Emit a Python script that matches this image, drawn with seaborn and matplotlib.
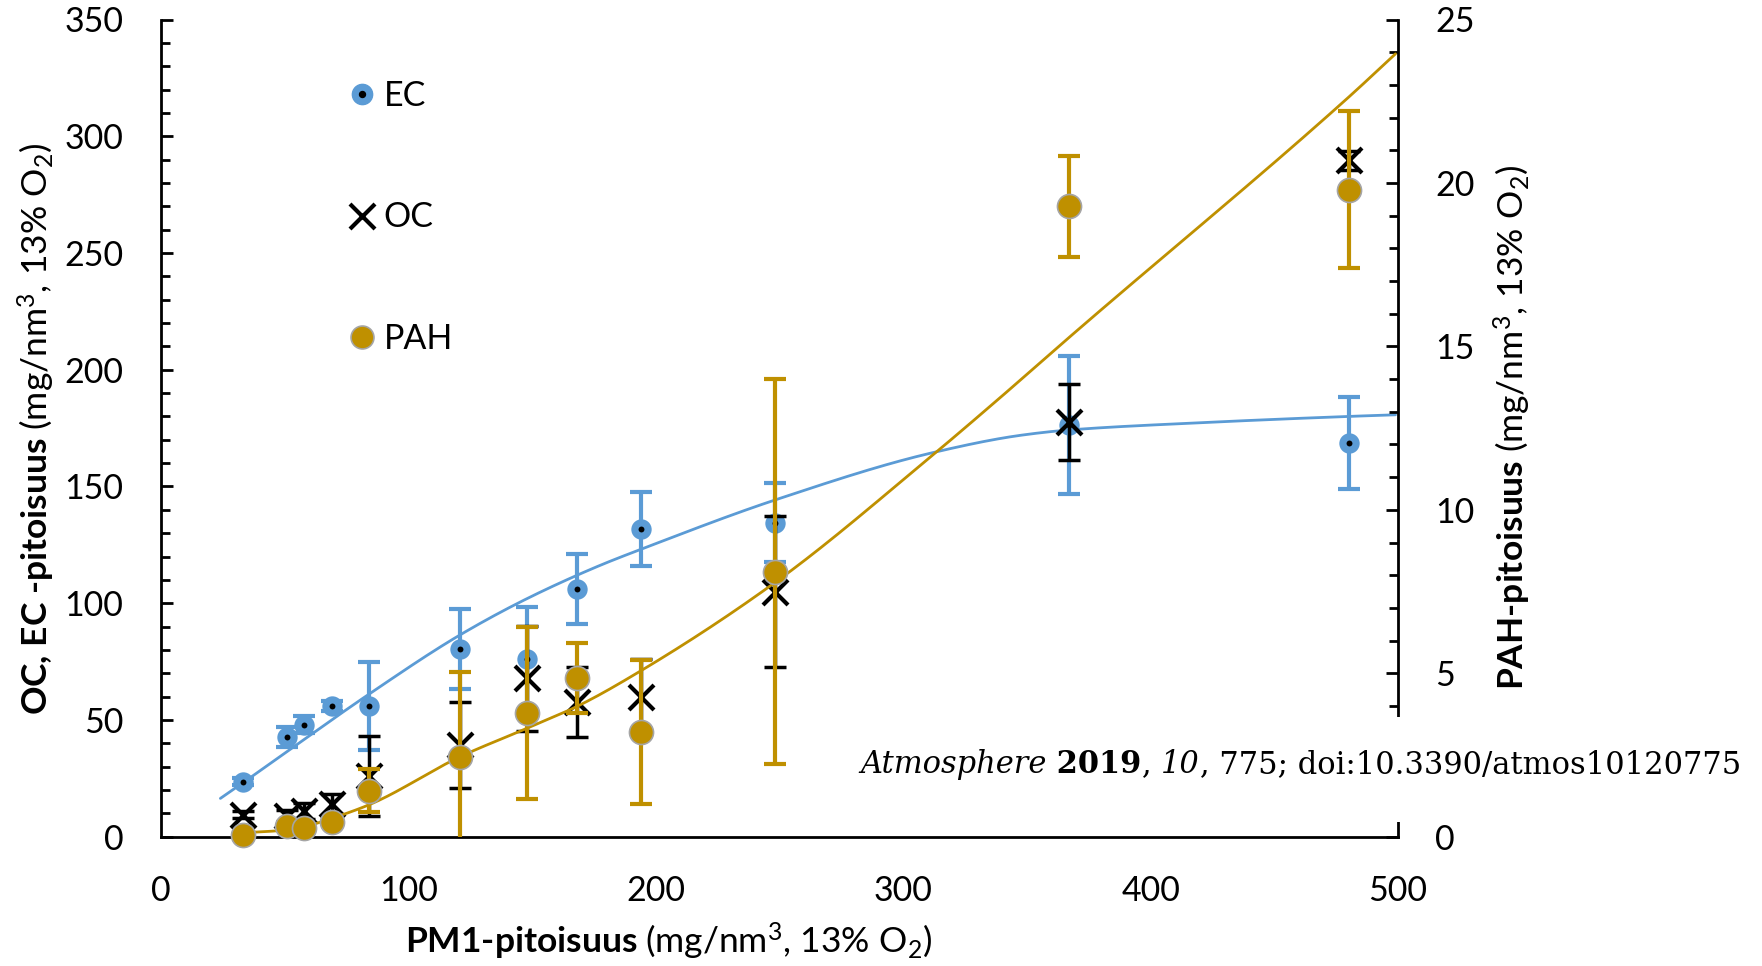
import numpy as np
import pandas as pd
import matplotlib
matplotlib.use("Agg")
import matplotlib.pyplot as plt
from matplotlib.lines import Line2D
from matplotlib.patches import Rectangle
from matplotlib.legend_handler import HandlerTuple
from matplotlib.ticker import MultipleLocator
import seaborn as sns

# ---- measurements -------------------------------------------------------
pm1 = [33, 51, 58, 69, 84, 121, 148, 168, 194, 248, 367, 480]

ec = [23.6, 42.8, 47.9, 56.0, 56.0, 80.4, 76.0, 106.0, 131.8, 134.5, 176.4, 168.8]
ec_err = [1.5, 4.3, 3.6, 2.0, 18.7, 17.3, 22.5, 15.0, 16.0, 17.0, 29.5, 19.7]

oc = [9.3, 9.0, 10.9, 13.8, 26.0, 39.3, 67.9, 57.8, 60.0, 105.0, 177.8, 289.7]
oc_err = [1.5, 2.5, 3.5, 4.3, 17.0, 18.5, 22.5, 14.9, 16.0, 32.5, 16.3, 4.0]

pah = [0.05, 0.34, 0.26, 0.44, 1.41, 2.45, 3.78, 4.85, 3.21, 8.11, 19.28, 19.79]
pah_err = [0.05, 0.1, 0.1, 0.1, 0.65, 2.6, 2.62, 1.07, 2.2, 5.9, 1.55, 2.4]

# trend curve nodes
ec_trend_x = [24, 33, 51, 84, 121, 148, 177, 195, 249, 312, 348, 367, 420, 480, 499]
ec_trend_y = [16.4, 23.0, 36.5, 61.0, 86.5, 102.0, 116.0, 123.5, 144.5, 164.5, 172.0, 174.2, 177.3, 180.0, 180.7]

pah_trend_x = [33, 50, 60, 69, 84.5, 121, 148, 168, 194.5, 248.6, 312, 338.7, 366.7, 479.7, 499]
pah_trend_y = [0.12, 0.2, 0.35, 0.56, 0.99, 2.45, 3.32, 3.98, 5.1, 7.8, 11.68, 13.4, 15.25, 22.6, 23.95]

x_ticks = [0, 100, 200, 300, 400, 500]
left_ticks = [0, 50, 100, 150, 200, 250, 300, 350]
right_ticks = [0, 5, 10, 15, 20, 25]
series_names = ["EC", "OC", "PAH"]

BLUE = "#5B9BD5"
GOLD = "#BF9000"
GREY = "#A5A5A5"


def smooth_curve(xn, yn, num=400):
    """Monotone cubic Hermite curve through the nodes."""
    xn = np.asarray(xn, float)
    yn = np.asarray(yn, float)
    h = np.diff(xn)
    d = np.diff(yn) / h
    m = np.empty_like(yn)
    m[0], m[-1] = d[0], d[-1]
    for k in range(1, len(xn) - 1):
        if d[k - 1] * d[k] <= 0:
            m[k] = 0.0
        else:
            w1 = 2 * h[k] + h[k - 1]
            w2 = h[k] + 2 * h[k - 1]
            m[k] = (w1 + w2) / (w1 / d[k - 1] + w2 / d[k])
    xs = np.linspace(xn[0], xn[-1], num)
    idx = np.clip(np.searchsorted(xn, xs) - 1, 0, len(h) - 1)
    t = (xs - xn[idx]) / h[idx]
    h00 = 2 * t**3 - 3 * t**2 + 1
    h10 = t**3 - 2 * t**2 + t
    h01 = -2 * t**3 + 3 * t**2
    h11 = t**3 - t**2
    ys = (h00 * yn[idx] + h10 * h[idx] * m[idx]
          + h01 * yn[idx + 1] + h11 * h[idx] * m[idx + 1])
    return pd.DataFrame({"x": xs, "y": ys})


sns.set_style("white")
plt.rcParams["font.family"] = ["Lato", "DejaVu Sans"]
plt.rcParams.update({
    "mathtext.fontset": "custom",
    "mathtext.rm": "Lato",
    "mathtext.it": "Lato:italic",
    "mathtext.bf": "Lato:bold",
    "text.color": "black",
    "axes.edgecolor": "black",
    "xtick.color": "black",
    "ytick.color": "black",
})

W, H = 1762, 966
fig = plt.figure(figsize=(W / 100, H / 100), dpi=100)
ax = fig.add_axes([161 / W, 1 - 836.7 / H, (1398 - 161) / W, (836.7 - 19.5) / H])
ax2 = ax.twinx()

df = pd.DataFrame({"pm1": pm1, "ec": ec, "oc": oc, "pah": pah})

# EC (left axis)
ax.errorbar(pm1, ec, yerr=ec_err, fmt="none", ecolor=BLUE, elinewidth=3,
            capsize=7.7, capthick=3, zorder=2)
sns.lineplot(data=smooth_curve(ec_trend_x, ec_trend_y), x="x", y="y", ax=ax,
             color=BLUE, lw=2, sort=False, estimator=None, zorder=3)
sns.scatterplot(data=df, x="pm1", y="ec", ax=ax, marker="o", s=215,
                color=BLUE, edgecolor=BLUE, linewidth=0, zorder=4)
sns.scatterplot(data=df, x="pm1", y="ec", ax=ax, marker="o", s=18,
                color="black", edgecolor="black", linewidth=0, zorder=5)

# OC (left axis)
ax.errorbar(pm1, oc, yerr=oc_err, fmt="none", ecolor="black", elinewidth=2.5,
            capsize=7.7, capthick=2.5, zorder=6)
sns.scatterplot(data=df, x="pm1", y="oc", ax=ax, marker="x", s=324,
                color="black", linewidth=3, zorder=7)

# PAH (right axis)
ax2.errorbar(pm1, pah, yerr=pah_err, fmt="none", ecolor=GOLD, elinewidth=3,
             capsize=7.7, capthick=3, zorder=2)
sns.lineplot(data=smooth_curve(pah_trend_x, pah_trend_y), x="x", y="y", ax=ax2,
             color=GOLD, lw=2, sort=False, estimator=None, zorder=3)
sns.scatterplot(data=df, x="pm1", y="pah", ax=ax2, marker="o", s=300,
                color=GOLD, edgecolor=GREY, linewidth=1.2, zorder=4, clip_on=False)

# axes, ticks
ax.set_xlim(0, 500)
ax.set_ylim(0, 350)
ax2.set_ylim(0, 25)
ax.set_xticks(x_ticks)
ax.set_yticks(left_ticks)
ax2.set_yticks(right_ticks)
ax.xaxis.set_minor_locator(MultipleLocator(20))
ax.yaxis.set_minor_locator(MultipleLocator(10))
ax2.yaxis.set_minor_locator(MultipleLocator(1))
ax.set_xlabel("")
ax.set_ylabel("")
ax2.set_ylabel("")

for s in ["top", "right"]:
    ax.spines[s].set_visible(False)
for s in ["top", "left", "bottom"]:
    ax2.spines[s].set_visible(False)
for a in (ax, ax2):
    for s in a.spines.values():
        s.set_linewidth(2.0)

ax.tick_params(axis="x", which="both", direction="in", width=2, labelsize=24.5,
               pad=27.5, top=False)
ax.tick_params(axis="x", which="major", length=8)
ax.tick_params(axis="x", which="minor", length=7)
ax.tick_params(axis="y", which="both", direction="in", width=2, labelsize=24.5,
               pad=27, right=False)
ax.tick_params(axis="y", which="major", length=8.6)
ax.tick_params(axis="y", which="minor", length=6.5)
ax2.tick_params(axis="y", which="both", direction="in", width=2, labelsize=24.5,
                pad=27)
ax2.tick_params(axis="y", which="major", length=8.6)
ax2.tick_params(axis="y", which="minor", length=6.5)

# axis titles
unit = r"$\mathrm{(mg/nm^3{,}\ 13\%\ O_2)}$"
label_fs = 25.5
fig.text(669 / W, 1 - 954 / H, "PM1-pitoisuus " + unit, ha="center",
         va="baseline", fontsize=label_fs, fontweight="bold")
fig.text(36 / W, 1 - 428.5 / H, "OC, EC -pitoisuus " + unit, ha="center",
         va="center", rotation=90, fontsize=label_fs, fontweight="bold")
fig.text(1512 / W, 1 - 427 / H, "PAH-pitoisuus " + unit, ha="center",
         va="center", rotation=90, fontsize=label_fs, fontweight="bold")

# legend
ec_h = (Line2D([], [], ls="none", marker="o", ms=14.6, mfc=BLUE, mec=BLUE),
        Line2D([], [], ls="none", marker="o", ms=4.3, mfc="black", mec="black"))
oc_h = Line2D([], [], ls="none", marker="x", ms=18, mew=3, color="black")
pah_h = Line2D([], [], ls="none", marker="o", ms=16.5, mfc=GOLD, mec=GREY, mew=1.2)
ax2.legend(handles=[ec_h, oc_h, pah_h], labels=series_names, loc="upper left",
           bbox_to_anchor=(348 / W, 1 - 80 / H), bbox_transform=fig.transFigure,
           frameon=False, fontsize=24.5, handlelength=0.8, handletextpad=0.25,
           labelspacing=2.63, borderpad=0, borderaxespad=0,
           handler_map={tuple: HandlerTuple(ndivide=1)})

# citation block
cover = Rectangle((855 / W, 1 - 822 / H), (W - 855) / W, (822 - 717) / H,
                  transform=fig.transFigure, facecolor="white", edgecolor="none",
                  zorder=10)
ax2.add_artist(cover)
cover.set_clip_on(False)

serif = "DejaVu Serif"
fs = 22
t1 = ax2.text(860 / W, 1 - 773 / H, "Atmosphere", transform=fig.transFigure,
              fontfamily=serif, style="italic", fontsize=fs, ha="left",
              va="baseline", zorder=11)
pieces = [(" 2019", "normal", "bold"), (", ", "normal", "normal"),
          ("10", "italic", "normal"),
          (", 775; doi:10.3390/atmos10120775", "normal", "normal")]
prev = t1
for txt, st, wt in pieces:
    prev = ax2.annotate(txt, xy=(1, 0), xycoords=prev, ha="left", va="bottom",
                        fontfamily=serif, style=st, fontweight=wt, fontsize=fs,
                        zorder=11, annotation_clip=False)

fig.savefig("out.png", dpi=100)
